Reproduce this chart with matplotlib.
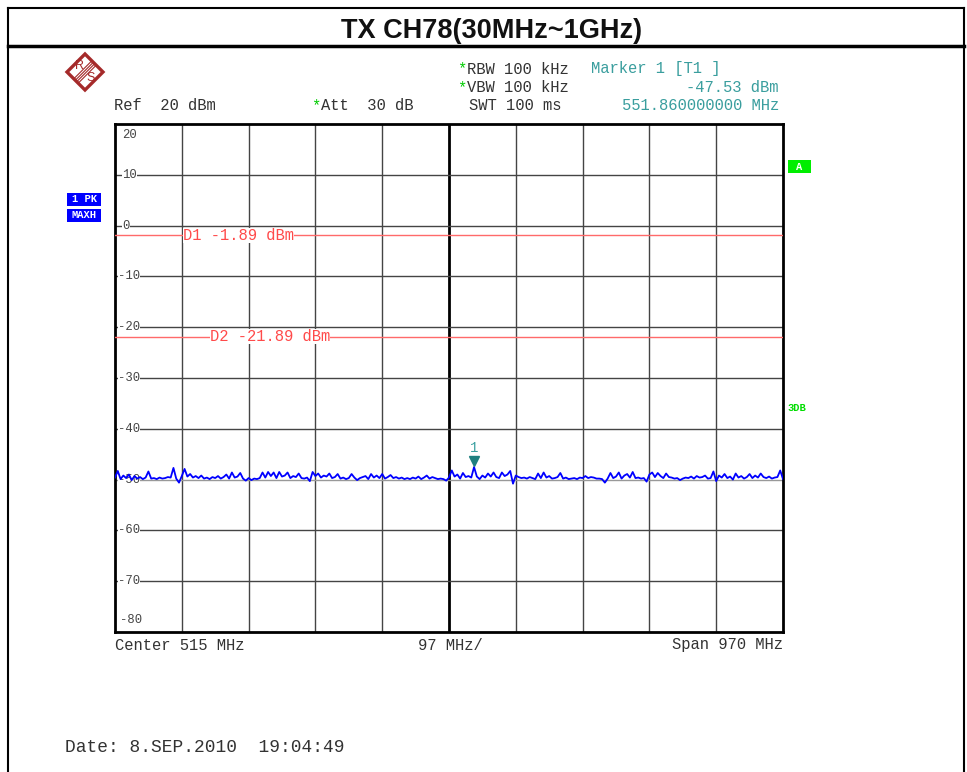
import matplotlib
matplotlib.use("Agg")
import matplotlib.pyplot as plt
import matplotlib.transforms as mtransforms
from matplotlib.patches import Rectangle, Polygon
from matplotlib.lines import Line2D
import numpy as np

# ---------------- data ----------------
title = "TX CH78(30MHz~1GHz)"
f_start, f_stop = 30.0, 1000.0          # MHz
ref_top, ref_bottom = 20, -80           # dBm
y_ticks = [20, 10, 0, -10, -20, -30, -40, -50, -60, -70, -80]
x_div = 10

trace_dbm = [
    -49.6, -48.3, -49.9, -49.2, -49.7, -49.0, -50.1, -49.3, -49.8, -49.5, -49.9, -49.6, -48.4, -49.8, -49.7, -49.9, -49.6, -49.8, -49.7, -49.5, -49.6, -47.7, -49.8, -50.6,
    -49.3, -47.9, -49.4, -48.9, -49.6, -49.3, -49.7, -49.2, -49.8, -49.6, -49.9, -49.5, -49.7, -49.3, -49.8, -49.5, -49.0, -49.8, -48.6, -49.6, -49.4, -48.7, -49.8, -50.2,
    -49.7, -50.1, -49.8, -49.9, -49.7, -48.6, -49.6, -48.5, -49.3, -48.6, -49.7, -48.5, -49.4, -49.2, -48.6, -49.7, -49.3, -49.5, -48.8, -49.7, -49.8, -49.6, -50.3, -48.5,
    -49.3, -48.8, -49.6, -49.2, -49.4, -48.8, -49.7, -49.5, -48.9, -49.8, -49.6, -49.9, -49.7, -48.9, -49.6, -50.1, -49.7, -49.5, -49.3, -49.9, -48.9, -49.6, -49.2, -49.7,
    -48.9, -49.8, -49.5, -49.1, -49.7, -49.5, -49.8, -49.6, -49.9, -49.7, -49.9, -49.6, -49.8, -49.4, -49.9, -49.6, -49.2, -49.8, -49.5, -49.7, -49.9, -49.8, -49.9, -50.2,
    -49.6, -48.2, -49.4, -49.0, -49.8, -48.7, -49.5, -49.3, -49.6, -47.53, -49.4, -49.9, -49.2, -49.6, -48.8, -49.4, -48.6, -49.5, -49.7, -48.6, -49.3, -49.0, -48.3, -50.8,
    -49.2, -49.5, -49.7, -49.6, -49.8, -49.5, -49.7, -49.9, -48.8, -49.7, -48.6, -49.6, -49.3, -49.8, -49.7, -49.5, -48.7, -49.8, -49.6, -49.9, -49.8, -49.7, -49.9, -49.6,
    -49.7, -49.3, -49.7, -49.5, -49.6, -49.8, -49.8, -49.9, -50.6, -49.8, -48.7, -49.7, -49.4, -48.6, -49.8, -49.2, -48.9, -49.6, -48.5, -49.7, -49.6, -49.8, -49.7, -50.4,
    -49.0, -48.6, -49.5, -48.7, -49.3, -49.7, -48.8, -49.5, -49.6, -49.8, -49.7, -50.1, -49.8, -49.6, -49.7, -49.4, -49.8, -49.3, -49.6, -49.5, -49.2, -49.8, -49.7, -48.4,
    -50.3, -49.2, -49.6, -48.9, -49.7, -49.4, -50.0, -48.8, -49.6, -49.3, -49.8, -49.5, -48.9, -49.7, -49.2, -49.6, -48.8, -49.5, -49.7, -49.4, -49.8, -49.6, -49.5, -48.2, -49.9,
]
trace_freq = np.linspace(f_start, f_stop, len(trace_dbm))

display_lines = ["D1", "D2"]
display_levels = [-1.89, -21.89]
marker_freq = 551.86
marker_level = -47.53

# ---------------- figure ----------------
W, H = 967, 772
fig = plt.figure(figsize=(W / 100, H / 100), dpi=100, facecolor="white")
MONO = ["Liberation Mono", "DejaVu Sans Mono"]

def P(x, y):
    return (x / W, 1 - y / H)

# outer frame and title box
for (x0, y0), (x1, y1), lw in [((8, 8), (964, 8), 1.5), ((8, 8), (8, 772), 1.5),
                               ((964, 8), (964, 772), 1.5), ((8, 46), (964, 46), 2.5)]:
    a, b = P(x0, y0), P(x1, y1)
    fig.add_artist(Line2D([a[0], b[0]], [a[1], b[1]], color="black", lw=lw,
                          transform=fig.transFigure))
fig.text(*P(492, 31), title, ha="center", va="center", fontsize=19.5, fontweight="bold",
         family=["Liberation Sans Narrow", "Liberation Sans", "DejaVu Sans"], color="#111111")

# main axes
L, R, T, B = 115, 783, 124, 632
ax = fig.add_axes([L / W, 1 - B / H, (R - L) / W, (B - T) / H])
ax.set_xlim(f_start, f_stop)
ax.set_ylim(ref_bottom, ref_top)
ax.set_xticks([])
ax.set_yticks([])
for s in ax.spines.values():
    s.set_linewidth(2)
    s.set_color("black")

step = (f_stop - f_start) / x_div
for i in range(1, x_div):
    xv = f_start + i * step
    if i == x_div // 2:
        ax.axvline(xv, color="black", lw=2, zorder=1)
    else:
        ax.axvline(xv, color="#444444", lw=1, zorder=1)
for yv in y_ticks[1:-1]:
    ax.axhline(yv, color="#444444" if yv != -50 else "#999999", lw=1, zorder=1)

# y labels inside plot
xlab = f_start + 7 / (R - L) * (f_stop - f_start)
for yv in y_ticks:
    if yv == ref_top:
        ax.text(xlab, yv - 1.0, str(yv), ha="left", va="top", fontsize=8.8, family=MONO,
                color="#444444", zorder=2)
    elif yv == ref_bottom:
        ax.text(xlab - 3, yv + 1.2, str(yv), ha="left", va="bottom", fontsize=8.8, family=MONO,
                color="#444444", zorder=2)
    else:
        lab = str(yv)
        ax.text(xlab - (6 if yv < 0 else 0), yv, lab, ha="left", va="center", fontsize=8.8,
                family=MONO, color="#444444", zorder=2,
                bbox=dict(facecolor="white", edgecolor="none", pad=0.3))

# display lines
dl_label_x = [f_start + 68 / (R - L) * (f_stop - f_start), f_start + 95 / (R - L) * (f_stop - f_start)]
for name, lvl, lx in zip(display_lines, display_levels, dl_label_x):
    ax.axhline(lvl, color="#ff6a6a", lw=1, zorder=3)
    ax.text(lx, lvl, f"{name} {lvl:.2f} dBm", ha="left", va="center", fontsize=11.2,
            family=MONO, color="#ff4a4a", zorder=4,
            bbox=dict(facecolor="white", edgecolor="none", pad=0.0))

# trace
ax.plot(trace_freq, trace_dbm, color="#0000ff", lw=1.3, zorder=5)

# marker
off = mtransforms.ScaledTranslation(0, 4.5 / 72, fig.dpi_scale_trans)
ax.plot([marker_freq], [marker_level], marker="v", ms=7, color="#1f8080",
        transform=ax.transData + off, zorder=6)
off2 = mtransforms.ScaledTranslation(0, 14 / 72, fig.dpi_scale_trans)
ax.text(marker_freq, marker_level, "1", ha="center", va="center", fontsize=10, family=MONO,
        color="#3aa0a0", transform=ax.transData + off2, zorder=6)

# header texts
grey = "#333333"
teal = "#3a9e9e"
green = "#00cc00"
fs = 11.2
fig.text(*P(457, 69), "*", color=green, fontsize=fs, family=MONO, va="center", ha="left")
fig.text(*P(467, 69), "RBW 100 kHz", color=grey, fontsize=fs, family=MONO, va="center", ha="left")
fig.text(*P(457, 88), "*", color=green, fontsize=fs, family=MONO, va="center", ha="left")
fig.text(*P(467, 88), "VBW 100 kHz", color=grey, fontsize=fs, family=MONO, va="center", ha="left")
fig.text(*P(469, 106), "SWT 100 ms", color=grey, fontsize=fs, family=MONO, va="center", ha="left")
fig.text(*P(591, 69), "Marker 1 [T1 ]", color=teal, fontsize=fs, family=MONO, va="center", ha="left")
fig.text(*P(779, 88), f"{marker_level:.2f} dBm", color=teal, fontsize=fs, family=MONO, va="center", ha="right")
fig.text(*P(779, 106), f"{marker_freq:.9f} MHz", color=teal, fontsize=fs, family=MONO, va="center", ha="right")
fig.text(*P(114, 106), "Ref  20 dBm", color=grey, fontsize=fs, family=MONO, va="center", ha="left")
fig.text(*P(311, 106), "*", color=green, fontsize=fs, family=MONO, va="center", ha="left")
fig.text(*P(321, 106), "Att  30 dB", color=grey, fontsize=fs, family=MONO, va="center", ha="left")

# bottom texts
center = (f_start + f_stop) / 2
span = f_stop - f_start
fig.text(*P(115, 645), f"Center {center:.0f} MHz", color=grey, fontsize=fs, family=MONO, va="center", ha="left")
fig.text(*P(418, 645), f"{step:.0f} MHz/", color=grey, fontsize=fs, family=MONO, va="center", ha="left")
fig.text(*P(783, 645), f"Span {span:.0f} MHz", color=grey, fontsize=fs, family=MONO, va="center", ha="right")
fig.text(*P(65, 747), "Date: 8.SEP.2010  19:04:49", color=grey, fontsize=12.9, family=MONO, va="center", ha="left")

# blue trace-info boxes
for y0, lab in [(193, "1 PK"), (209, "MAXH")]:
    x0, y1 = P(67, y0 + 13)
    fig.add_artist(Rectangle((x0, y1), 34 / W, 13 / H, facecolor="#0000ff", edgecolor="none",
                             transform=fig.transFigure))
    fig.text(*P(84, y0 + 6.5), lab, color="white", fontsize=7.5, family=MONO, fontweight="bold",
             ha="center", va="center")

# green A box and 3DB
x0, y1 = P(788, 173)
fig.add_artist(Rectangle((x0, y1), 23 / W, 13 / H, facecolor="#00ee00", edgecolor="none",
                         transform=fig.transFigure))
fig.text(*P(799.5, 166.5), "A", color="white", fontsize=7.5, family=MONO, fontweight="bold",
         ha="center", va="center")
fig.text(*P(787, 408), "3DB", color="#00dd00", fontsize=7.5, family=MONO, fontweight="bold",
         ha="left", va="center")

# R&S logo
cx, cy, r = 85, 72, 18
red = "#a52a2a"
pts = [P(cx, cy - r), P(cx + r, cy), P(cx, cy + r), P(cx - r, cy)]
fig.add_artist(Polygon(pts, closed=True, fill=False, edgecolor=red, lw=2.4,
                       transform=fig.transFigure))
for d in (-2.2, -0.7, 0.7, 2.2):
    a = P(cx - r / 2 + d, cy + r / 2 + d)
    b = P(cx + r / 2 + d, cy - r / 2 + d)
    fig.add_artist(Line2D([a[0], b[0]], [a[1], b[1]], color=red, lw=0.8, transform=fig.transFigure))
fig.text(*P(79, 66), "R", color=red, fontsize=9, family=["Liberation Sans"], ha="center", va="center")
fig.text(*P(91, 78), "S", color=red, fontsize=9, family=["Liberation Sans"], ha="center", va="center")

fig.savefig("out.png", dpi=100, facecolor="white")
